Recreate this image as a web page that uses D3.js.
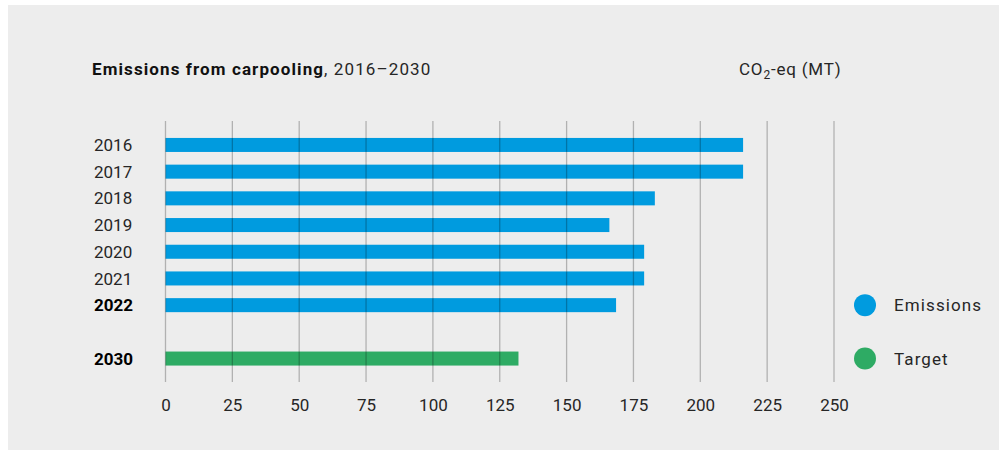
<!DOCTYPE html>
<html>
<head>
<meta charset="utf-8">
<script src="https://cdn.jsdelivr.net/npm/d3@7"></script>
<style>
  body { margin: 0; background: #fff; }
  svg { display: block; font-family: Roboto, "Noto Sans", sans-serif; }
</style>
</head>
<body>
<svg id="chart" width="999" height="452"></svg>
<script>
// datos
const years = ["2016", "2017", "2018", "2019", "2020", "2021", "2022", "", "2030"];
const emissions = [216, 216, 183, 166, 179, 179, 168.5];
const target = [132];
const boldYears = ["2022", "2030"];
const xTicks = [0, 25, 50, 75, 100, 125, 150, 175, 200, 225, 250];
const legendLabels = ["Emissions", "Target"];

const blue = "#009bdf";
const green = "#2eab64";
const textColor = "#262626";

const svg = d3.select("#chart");

// panel de fondo
svg.append("rect")
  .attr("x", 8)
  .attr("y", 5)
  .attr("width", 991)
  .attr("height", 445)
  .attr("fill", "#ededed");

const x = d3.scaleLinear().domain([0, 250]).range([165.5, 834]);
const y = d3.scaleBand()
  .domain(years)
  .range([131.6, 371.9])
  .paddingInner(0.475)
  .paddingOuter(0.2375);

// titulo
const title = svg.append("text")
  .attr("x", 92)
  .attr("y", 75)
  .attr("font-size", 17)
  .attr("letter-spacing", 1.1)
  .attr("fill", textColor);
title.append("tspan").attr("font-weight", "bold").attr("fill", "#111").text("Emissions from carpooling");
title.append("tspan").text(", 2016\u20132030");

const unit = svg.append("text")
  .attr("x", 739)
  .attr("y", 75)
  .attr("font-size", 17)
  .attr("letter-spacing", 0.8)
  .attr("fill", textColor);
unit.append("tspan").text("CO");
unit.append("tspan").attr("font-size", 12).attr("dy", 4).text("2");
unit.append("tspan").attr("dy", -4).text("-eq (MT)");

// barras
const barData = emissions.map((v, i) => ({ year: years[i], value: v, color: blue }))
  .concat(target.map(v => ({ year: "2030", value: v, color: green })));

svg.selectAll("rect.bar")
  .data(barData)
  .enter()
  .append("rect")
  .attr("class", "bar")
  .attr("x", x(0))
  .attr("y", d => y(d.year))
  .attr("width", d => x(d.value) - x(0))
  .attr("height", y.bandwidth())
  .attr("fill", d => d.color);

// lineas de la grilla (encima de las barras)
svg.selectAll("line.grid")
  .data(xTicks)
  .enter()
  .append("line")
  .attr("class", "grid")
  .attr("x1", d => x(d))
  .attr("x2", d => x(d))
  .attr("y1", 121)
  .attr("y2", 382)
  .attr("stroke", "rgba(0,0,0,0.25)")
  .attr("stroke-width", 1.3);

// etiquetas eje x
const xAxis = d3.axisBottom(x).tickValues(xTicks).tickSize(0).tickPadding(0);
const gx = svg.append("g")
  .attr("transform", "translate(0,399)")
  .call(xAxis);
gx.select(".domain").remove();
gx.selectAll("text")
  .attr("font-size", 17)
  .attr("font-family", "Roboto, sans-serif")
  .attr("fill", textColor)
  .attr("dy", "0.71em");

// etiquetas de años
svg.selectAll("text.year")
  .data(years.filter(d => d !== ""))
  .enter()
  .append("text")
  .attr("class", "year")
  .attr("x", 94)
  .attr("y", d => y(d) + y.bandwidth() / 2)
  .attr("dy", "0.36em")
  .attr("font-size", 17)
  .attr("font-weight", d => boldYears.includes(d) ? "bold" : "normal")
  .attr("fill", d => boldYears.includes(d) ? "#000" : textColor)
  .text(d => d);

// leyenda
const legend = svg.selectAll("g.legend")
  .data(legendLabels)
  .enter()
  .append("g")
  .attr("class", "legend")
  .attr("transform", (d, i) => `translate(865,${i === 0 ? y("2022") + y.bandwidth() / 2 : y("2030") + y.bandwidth() / 2})`);

legend.append("circle")
  .attr("r", 11)
  .attr("fill", (d, i) => i === 0 ? blue : green);

legend.append("text")
  .attr("x", 29)
  .attr("dy", "0.36em")
  .attr("font-size", 17)
  .attr("letter-spacing", 1.1)
  .attr("fill", textColor)
  .text(d => d);
</script>
</body>
</html>
